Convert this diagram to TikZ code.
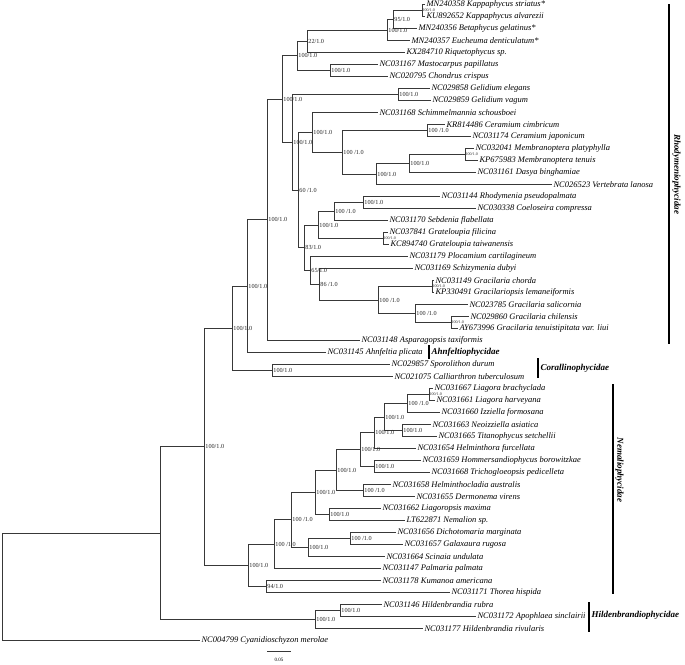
\documentclass[tikz,border=0pt]{standalone}
\usepackage{fontspec}
\setmainfont{Liberation Serif}
\newcommand\inode[3][sup]{\coordinate (#2) at (#3);}
\newcommand\slab[3][sup]{\node[#1] (#2s) at (#2) {#3};}
\newcommand\leafn[3]{\node[leaf] (#1) at (#2) {#3};}
\newcommand\tbr[2]{\draw[br] (#1) |- (#2);}
\newcommand\tlf[2]{\draw[br] (#1) |- (#2.west);}
\begin{document}
\begin{tikzpicture}[x=1pt,y=-1pt,
  br/.style={draw=black!78, line width=0.9pt},
  leaf/.style={anchor=west, inner sep=1.3pt, font=\fontsize{8.5}{9}\selectfont\itshape},
  sup/.style={anchor=west, inner sep=1.2pt, font=\fontsize{6.2}{7}\selectfont, text=black!85},
  tinysup/.style={anchor=west, inner sep=0.5pt, font=\fontsize{4}{4.5}\selectfont, text=black!85},
  clade/.style={inner sep=1pt, font=\fontsize{9}{10}\selectfont\bfseries\itshape},
  cbar/.style={draw=black, line width=1.7pt}]
\fill[white] (0,0) rectangle (685,664);
\useasboundingbox (0,0) rectangle (685,664);
% ---------- leaves ----------
\leafn{l1}{425,4.5}{MN240358 Kappaphycus striatus*}
\leafn{l2}{425,16.5}{KU892652 Kappaphycus alvarezii}
\leafn{l3}{417,28.5}{MN240356 Betaphycus gelatinus*}
\leafn{l4}{410,40.5}{MN240357 Eucheuma denticulatum*}
\leafn{l5}{405,52.5}{KX284710 Riquetophycus sp.}
\leafn{l6}{378,64.5}{NC031167 Mastocarpus papillatus}
\leafn{l7}{388,76.5}{NC020795 Chondrus crispus}
\leafn{l8}{430,88.5}{NC029858 Gelidium elegans}
\leafn{l9}{431,100.5}{NC029859 Gelidium vagum}
\leafn{l10}{378,112.5}{NC031168 Schimmelmannia schousboei}
\leafn{l11}{445,124.5}{KR814486 Ceramium cimbricum}
\leafn{l12}{471,136.5}{NC031174 Ceramium japonicum}
\leafn{l13}{474,148.5}{NC032041 Membranoptera platyphylla}
\leafn{l14}{478,160.5}{KP675983 Membranoptera tenuis}
\leafn{l15}{476,172.5}{NC031161 Dasya binghamiae}
\leafn{l16}{552,184.5}{NC026523 Vertebrata lanosa}
\leafn{l17}{440,196.5}{NC031144 Rhodymenia pseudopalmata}
\leafn{l18}{476,208.5}{NC030338 Coeloseira compressa}
\leafn{l19}{388,220.5}{NC031170 Sebdenia flabellata}
\leafn{l20}{388,232.5}{NC037841 Grateloupia filicina}
\leafn{l21}{389,244.5}{KC894740 Grateloupia taiwanensis}
\leafn{l22}{408,256.5}{NC031179 Plocamium cartilagineum}
\leafn{l23}{413,268.5}{NC031169 Schizymenia dubyi}
\leafn{l24}{434,280.5}{NC031149 Gracilaria chorda}
\leafn{l25}{434,292.5}{KP330491 Gracilariopsis lemaneiformis}
\leafn{l26}{468,304.5}{NC023785 Gracilaria salicornia}
\leafn{l27}{469,316.5}{NC029860 Gracilaria chilensis}
\leafn{l28}{458,328.5}{AY673996 Gracilaria tenuistipitata var. liui}
\leafn{l29}{360,340.5}{NC031148 Asparagopsis taxiformis}
\leafn{l30}{326,352.5}{NC031145 Ahnfeltia plicata}
\leafn{l31}{390,364.5}{NC029857 Sporolithon durum}
\leafn{l32}{393,376.5}{NC021075 Calliarthron tuberculosum}
\leafn{l33}{433,388.5}{NC031667 Liagora brachyclada}
\leafn{l34}{435,400.5}{NC031661 Liagora harveyana}
\leafn{l35}{440,412.5}{NC031660 Izziella formosana}
\leafn{l36}{431,424.5}{NC031663 Neoizziella asiatica}
\leafn{l37}{437,436.5}{NC031665 Titanophycus setchellii}
\leafn{l38}{416,448.5}{NC031654 Helminthora furcellata}
\leafn{l39}{421,460.5}{NC031659 Hommersandiophycus borowitzkae}
\leafn{l40}{430,472.5}{NC031668 Trichogloeopsis pedicelleta}
\leafn{l41}{391,484.5}{NC031658 Helminthocladia australis}
\leafn{l42}{415,496.5}{NC031655 Dermonema virens}
\leafn{l43}{381,508.5}{NC031662 Liagoropsis maxima}
\leafn{l44}{405,520.5}{LT622871 Nemalion sp.}
\leafn{l45}{396,532.5}{NC031656 Dichotomaria marginata}
\leafn{l46}{403,544.5}{NC031657 Galaxaura rugosa}
\leafn{l47}{385,556.5}{NC031664 Scinaia undulata}
\leafn{l48}{381,568.5}{NC031147 Palmaria palmata}
\leafn{l49}{381,580.5}{NC031178 Kumanoa americana}
\leafn{l50}{450,592.5}{NC031171 Thorea hispida}
\leafn{l51}{382,604.5}{NC031146 Hildenbrandia rubra}
\leafn{l52}{476,616.5}{NC031172 Apophlaea sinclairii}
\leafn{l53}{423,628.5}{NC031177 Hildenbrandia rivularis}
\leafn{l54}{200,640.5}{NC004799 Cyanidioschyzon merolae}
% ---------- internal nodes ----------
\inode{K2}{422,10.5}
\inode{K95}{393,19.5}
\inode{L}{387,30}
\inode{I}{307,41.25}
\inode{MC}{330,70.5}
\inode{G}{297,55.9}
\inode{Gel}{398,94.5}
\inode{Cer2}{427,130.5}
\inode{Mem}{465,154.5}
\inode{MD}{409,163.5}
\inode{MDV}{376,174}
\inode{O}{342,152.25}
\inode{N}{312,132.4}
\inode{S}{363,202.5}
\inode{R}{334,211.5}
\inode{Grat}{383,238.5}
\inode{Q}{318,225}
\inode{GrP}{432,286.5}
\inode{X}{451,322.5}
\inode{W}{415,313.5}
\inode{V}{378,300}
\inode{U}{319,284.25}
\inode{T}{310,270.4}
\inode{P}{304,247.7}
\inode{M}{298,190}
\inode{H}{292,142.3}
\inode{F}{282,99.1}
\inode{E}{267,219.8}
\inode{D}{247,286.2}
\inode{Cor}{272,370.5}
\inode{C}{232,328.3}
\inode{Lia}{429,394.5}
\inode{nA}{407,403.5}
\inode{NT}{402,430.5}
\inode{nB}{384,417}
\inode{nC}{374,432.75}
\inode{AG}{374,466.5}
\inode{AF}{360,449.6}
\inode{HD}{363,490.5}
\inode{AE}{336,470}
\inode{LN}{329,514.5}
\inode{AB}{315,492.25}
\inode{DG}{350,538.5}
\inode{AC}{308,547.5}
\inode{AA}{291,519.9}
\inode{Y}{274,544.2}
\inode{KT}{266,586.5}
\inode{Z}{248,565.4}
\inode{B}{204,446.85}
\inode{HA}{340,610.5}
\inode{HN}{315,619.5}
\inode{A}{160,533.2}
\inode{R0}{2.5,586.85}
% ---------- branches ----------
\tbr{R0}{A} \tlf{R0}{l54}
\tbr{A}{B} \tbr{A}{HN}
\tbr{HN}{HA} \tlf{HN}{l53}
\tlf{HA}{l51} \tlf{HA}{l52}
\tbr{B}{C} \tbr{B}{Z}
\tbr{C}{D} \tbr{C}{Cor}
\tlf{Cor}{l31} \tlf{Cor}{l32}
\tbr{D}{E} \tlf{D}{l30}
\tbr{E}{F} \tlf{E}{l29}
\tbr{F}{G} \tbr{F}{H}
\tbr{G}{I} \tbr{G}{MC}
\tbr{I}{L} \tlf{I}{l5}
\tbr{L}{K95} \tlf{L}{l4}
\tbr{K95}{K2} \tlf{K95}{l3}
\tlf{K2}{l1} \tlf{K2}{l2}
\tlf{MC}{l6} \tlf{MC}{l7}
\tbr{H}{Gel} \tbr{H}{M}
\tlf{Gel}{l8} \tlf{Gel}{l9}
\tbr{M}{N} \tbr{M}{P}
\tlf{N}{l10} \tbr{N}{O}
\tbr{O}{Cer2} \tbr{O}{MDV}
\tlf{Cer2}{l11} \tlf{Cer2}{l12}
\tbr{MDV}{MD} \tlf{MDV}{l16}
\tbr{MD}{Mem} \tlf{MD}{l15}
\tlf{Mem}{l13} \tlf{Mem}{l14}
\tbr{P}{Q} \tbr{P}{T}
\tbr{Q}{R} \tbr{Q}{Grat}
\tbr{R}{S} \tlf{R}{l19}
\tlf{S}{l17} \tlf{S}{l18}
\tlf{Grat}{l20} \tlf{Grat}{l21}
\tlf{T}{l22} \tbr{T}{U}
\tlf{U}{l23} \tbr{U}{V}
\tbr{V}{GrP} \tbr{V}{W}
\tlf{GrP}{l24} \tlf{GrP}{l25}
\tlf{W}{l26} \tbr{W}{X}
\tlf{X}{l27} \tlf{X}{l28}
\tbr{Z}{Y} \tbr{Z}{KT}
\tlf{KT}{l49} \tlf{KT}{l50}
\tbr{Y}{AA} \tlf{Y}{l48}
\tbr{AA}{AB} \tbr{AA}{AC}
\tbr{AB}{AE} \tbr{AB}{LN}
\tbr{AE}{AF} \tbr{AE}{HD}
\tbr{AF}{nC} \tbr{AF}{AG}
\tbr{nC}{nB} \tlf{nC}{l38}
\tbr{nB}{nA} \tbr{nB}{NT}
\tbr{nA}{Lia} \tlf{nA}{l35}
\tlf{Lia}{l33} \tlf{Lia}{l34}
\tlf{NT}{l36} \tlf{NT}{l37}
\tlf{AG}{l39} \tlf{AG}{l40}
\tlf{HD}{l41} \tlf{HD}{l42}
\tlf{LN}{l43} \tlf{LN}{l44}
\tbr{AC}{DG} \tlf{AC}{l47}
\tlf{DG}{l45} \tlf{DG}{l46}
% ---------- support values ----------
\slab[tinysup]{K2}{100/1.0}
\slab{K95}{95/1.0}
\slab{L}{100/1.0}
\slab{I}{22/1.0}
\slab{MC}{100/1.0}
\slab{G}{100/1.0}
\slab{Gel}{100/1.0}
\slab{F}{100/1.0}
\slab{Cer2}{100 /1.0}
\slab[tinysup]{Mem}{100/1.0}
\slab{MD}{100/1.0}
\slab{MDV}{100/1.0}
\slab{O}{100 /1.0}
\slab{N}{100/1.0}
\slab{H}{100/1.0}
\slab{M}{60 /1.0}
\slab{S}{100/1.0}
\slab{R}{100 /1.0}
\slab[tinysup]{Grat}{100/1.0}
\slab{Q}{100/1.0}
\slab{P}{83/1.0}
\slab{T}{65/1.0}
\slab{U}{86 /1.0}
\slab[tinysup]{GrP}{100/1.0}
\slab{V}{100 /1.0}
\slab{W}{100 /1.0}
\slab[tinysup]{X}{100/1.0}
\slab{E}{100/1.0}
\slab{D}{100/1.0}
\slab{Cor}{100/1.0}
\slab{C}{100/1.0}
\slab[tinysup]{Lia}{100/1.0}
\slab{nA}{100 /1.0}
\slab{NT}{100/1.0}
\slab{nB}{100/1.0}
\slab{nC}{100/1.0}
\slab{AG}{100/1.0}
\slab{AF}{100/1.0}
\slab{HD}{100 /1.0}
\slab{AE}{100/1.0}
\slab{LN}{100/1.0}
\slab{AB}{100/1.0}
\slab{DG}{100 /1.0}
\slab{AC}{100/1.0}
\slab{AA}{100 /1.0}
\slab{Y}{100 /1.0}
\slab{Z}{100/1.0}
\slab{KT}{94/1.0}
\slab{B}{100/1.0}
\slab{HA}{100/1.0}
\slab{HN}{100/1.0}
% ---------- clade bars ----------
\coordinate (rb1) at (669,4); \coordinate (rb2) at (669,344);
\draw[cbar] (rb1) -- (rb2);
\node[clade, rotate=-90] (rhod) at (676.5,174) {Rhodymeniophycidae};
\coordinate (ab1) at (429,345); \coordinate (ab2) at (429,359);
\draw[cbar] (ab1) -- (ab2);
\node[clade, anchor=west] (ahnf) at (430.5,352.5) {Ahnfeltiophycidae};
\coordinate (cb1) at (538,358); \coordinate (cb2) at (538,378);
\draw[cbar] (cb1) -- (cb2);
\node[clade, anchor=west] (cora) at (539.5,368) {Corallinophycidae};
\coordinate (nb1) at (613,384); \coordinate (nb2) at (613,594);
\draw[cbar] (nb1) -- (nb2);
\node[clade, rotate=-90] (nema) at (619.5,470) {Nemaliophycidae};
\coordinate (hb1) at (589,602); \coordinate (hb2) at (589,632);
\draw[cbar] (hb1) -- (hb2);
\node[clade, anchor=west] (hild) at (590.5,615.5) {Hildenbrandiophycidae};
% ---------- scale bar ----------
\coordinate (sb1) at (267,651); \coordinate (sb2) at (291,651);
\draw[br] (sb1) -- (sb2);
\node[font=\fontsize{5}{5.5}\selectfont, inner sep=0.5pt] (sbl) at (279,659.5) {0.05};
\end{tikzpicture}
\end{document}
